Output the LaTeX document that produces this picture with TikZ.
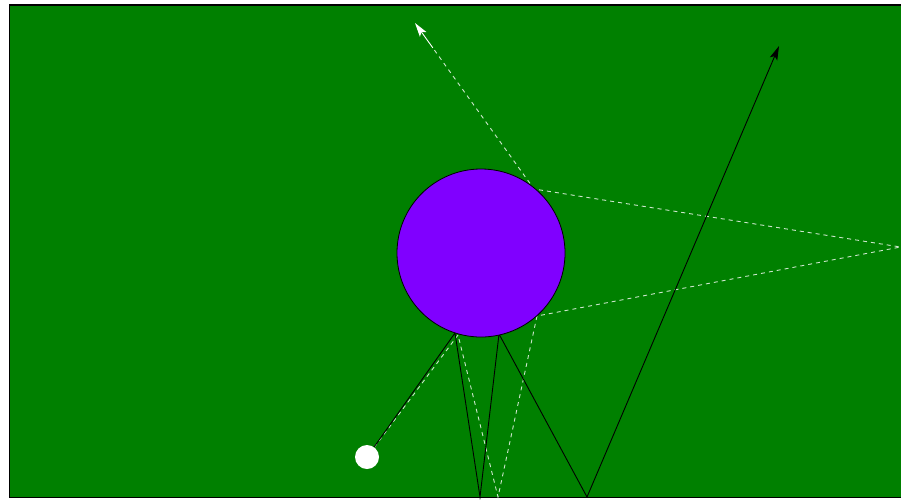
\documentclass[tikz,border=0pt]{standalone}
\usetikzlibrary{arrows.meta,calc}
\definecolor{field}{RGB}{0,128,0}
\definecolor{violetball}{RGB}{128,0,255}
\tikzset{
  solidray/.style={draw=black, line width=0.9pt},
  dashray/.style={draw=white!80!field, line width=0.9pt, dash pattern=on 4pt off 4pt},
  tipb/.style={-{Stealth[length=14pt,width=8pt,inset=3pt]}},
}
\begin{document}
\begin{tikzpicture}[x=1pt,y=-1pt]
\useasboundingbox (0,0) rectangle (901,499);
\fill[white] (0,0) rectangle (901,499);
\begin{scope}
\clip (0,0) rectangle (901,499);
\draw[fill=field, draw=black, line width=1.5pt] (9.5,5) rectangle (905,497.5);
\end{scope}
% bounce points
\coordinate (s1) at (455,333);
\coordinate (s2) at (480,497);
\coordinate (s3) at (499,334);
\coordinate (s4) at (587,497);
\coordinate (s5) at (779,46);
\coordinate (d1) at (458,335);
\coordinate (d2) at (498,497);
\coordinate (d3) at (537,316);
\coordinate (d4) at (900.5,247);
\coordinate (d5) at (534,189);
\coordinate (d6) at (415,23);
\coordinate (d7) at ($(d5)!0.85!(d6)$);
% rays
\node[circle, fill=white, minimum size=24pt, inner sep=0pt] (b) at (367,457) {};
\draw[dashray] (b) -- (d1) -- (d2) -- (d3) -- (d4) -- (d5) -- (d7);
\draw[solidray] (b) -- (s1) -- (s2) -- (s3) -- (s4);
\draw[solidray, tipb] (s4) -- (s5);
\node[circle, draw=black, line width=0.8pt, fill=violetball, minimum size=168pt, inner sep=0pt] (c) at (481,253) {};
\draw[white, line width=0.9pt, tipb] (d7) -- (d6);
\end{tikzpicture}
\end{document}
